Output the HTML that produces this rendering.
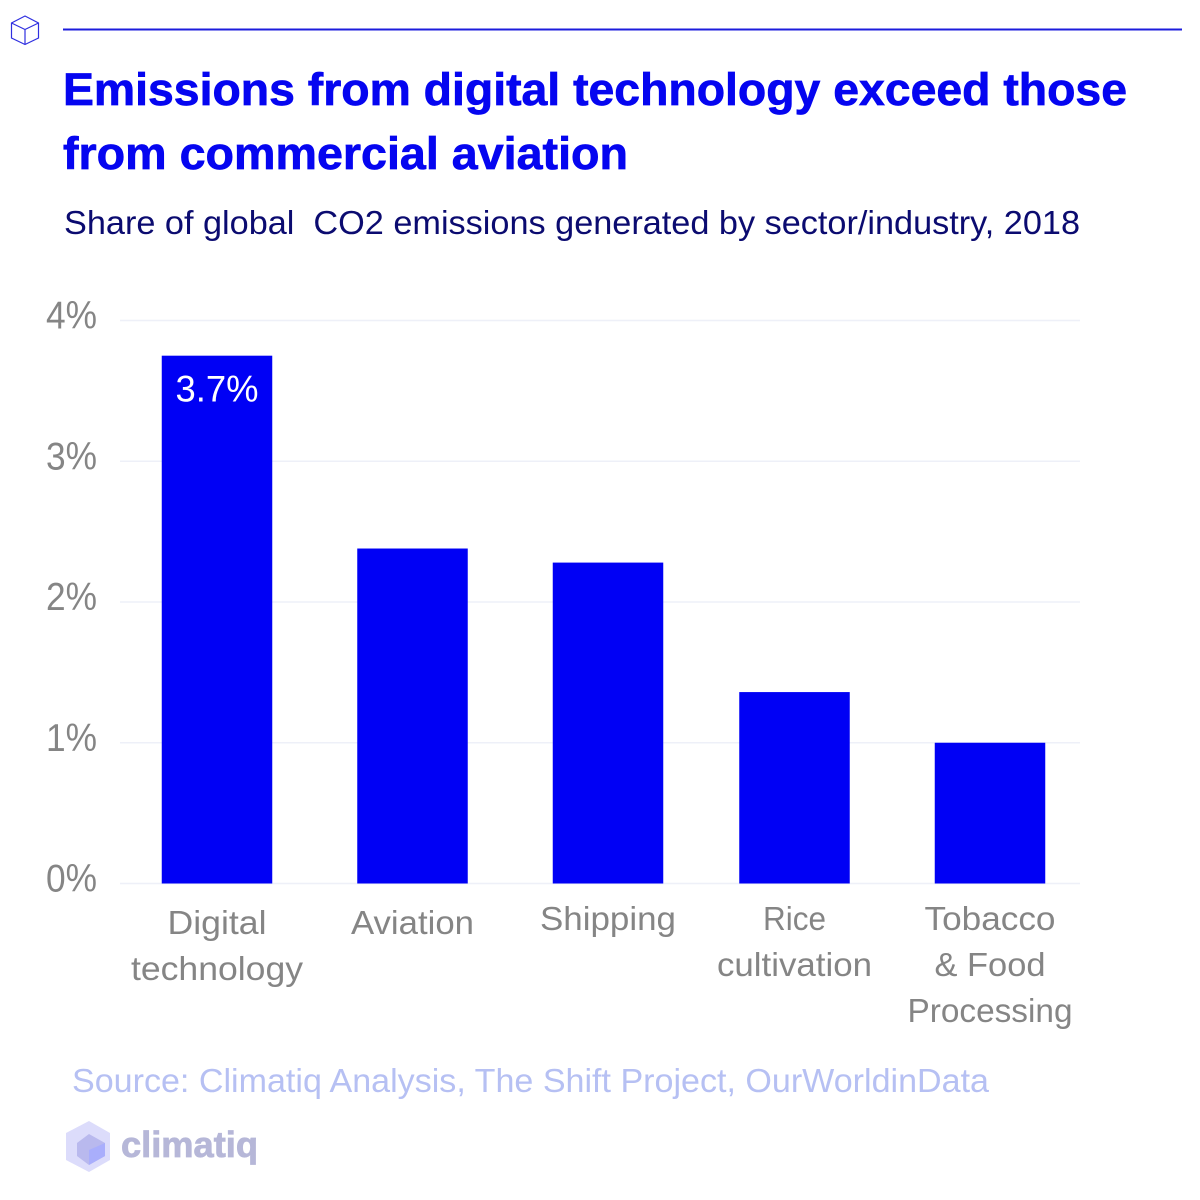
<!DOCTYPE html>
<html>
<head>
<meta charset="utf-8">
<style>
html,body{margin:0;padding:0;background:#fff;width:1200px;height:1200px;overflow:hidden}
svg{display:block}
text{font-family:"Liberation Sans",sans-serif}
</style>
</head>
<body>
<svg id="chart" width="1200" height="1200" viewBox="0 0 1200 1200" xmlns="http://www.w3.org/2000/svg">
  <g fill="none" stroke="#2f2fe0" stroke-width="1.2">
    <path d="M25 16 L38.500 23 L38.500 38 L25 44.500 L11.500 38 L11.500 23 Z"/>
    <path d="M11.500 23 L25 29.500 L38.500 23 M25 29.500 L25 44.500"/>
  </g>
  <line x1="63" y1="29.500" x2="1182" y2="29.500" stroke="#1c1cdc" stroke-width="2"/>
  <text x="63" y="105" font-size="45" font-weight="700" fill="#0505f0" stroke="#0505f0" stroke-width="0.7" textLength="1064" lengthAdjust="spacingAndGlyphs">Emissions from digital technology exceed those</text>
  <text x="63" y="169" font-size="45" font-weight="700" fill="#0505f0" stroke="#0505f0" stroke-width="0.7" textLength="565" lengthAdjust="spacingAndGlyphs">from commercial aviation</text>
  <text x="64" y="234" font-size="33" fill="#0b0b70" textLength="1016" lengthAdjust="spacingAndGlyphs" xml:space="preserve">Share of global  CO2 emissions generated by sector/industry, 2018</text>
  <g id="grid"></g>
  <g id="yticks"></g>
  <g id="bars"></g>
  <g id="xlabels"></g>
  <text x="72" y="1092" font-size="33" fill="#b6c0f3" textLength="917" lengthAdjust="spacingAndGlyphs">Source: Climatiq Analysis, The Shift Project, OurWorldinData</text>
  <g>
    <path d="M89 1121 L110 1133 L110 1160 L89 1172 L66 1160 L66 1133 Z" fill="#dcdcfb"/>
    <path d="M89 1134 L105 1143 L105 1156 L89 1165 L77 1156 L77 1143 Z" fill="#b9b9ee"/>
    <path d="M89 1150 L105 1143 L105 1156 L89 1165 Z" fill="#a9aefc"/>
    <text x="121" y="1157" font-size="36" font-weight="700" fill="#b6b7d8" stroke="#b6b7d8" stroke-width="0.8" textLength="137" lengthAdjust="spacingAndGlyphs">climatiq</text>
  </g>
</svg>
<script>
const categories = ["Digital technology", "Aviation", "Shipping", "Rice cultivation", "Tobacco & Food Processing"];
const shareValues = [3.75, 2.38, 2.28, 1.36, 1.0];
const valueLabels = ["3.7%", "", "", "", ""];
const tickValues = [0, 1, 2, 3, 4];
const tickLabels = ["0%", "1%", "2%", "3%", "4%"];

const NS = "http://www.w3.org/2000/svg";
const BAR_WIDTH = 110.5;
const lineBreaks = { "Digital technology": ["Digital", "technology"], "Rice cultivation": ["Rice", "cultivation"], "Tobacco & Food Processing": ["Tobacco", "& Food", "Processing"] };
const lineFit = { "Digital": 99, "technology": 172, "Aviation": 123, "Shipping": 136, "Rice": 63, "cultivation": 155, "Tobacco": 131, "& Food": 111, "Processing": 165 };

function yScale(v) { return 883.5 - v * 140.75; }
function xCenter(i) { return 217 + i * 195.5 - (i >= 3 ? 9 : 0); }
function labelBaseline(i) { return i >= 2 ? 930 : 934; }

function make(tag, attrs, text) {
  const el = document.createElementNS(NS, tag);
  for (const k in attrs) el.setAttribute(k, attrs[k]);
  if (text !== undefined) el.textContent = text;
  return el;
}

const gridG = document.getElementById("grid");
const tickG = document.getElementById("yticks");
tickValues.forEach(function (v, i) {
  const y = yScale(v);
  const line = make("line", { x1: 120, x2: 1080, y1: y, y2: y, stroke: "#eef0f8", "stroke-width": 1.5 });
  
  
  gridG.appendChild(line);
  const t = make("text", { x: 46, y: y + 8, "font-size": 39, fill: "#858585", textLength: 51, lengthAdjust: "spacingAndGlyphs" }, tickLabels[i]);
  
  
  tickG.appendChild(t);
});

const barG = document.getElementById("bars");
const labelG = document.getElementById("xlabels");
categories.forEach(function (c, i) {
  const cx = xCenter(i);
  const top = yScale(shareValues[i]);
  const bar = make("rect", { x: cx - BAR_WIDTH / 2, y: top, width: BAR_WIDTH, height: yScale(0) - top, fill: "#0000f5" });
  
  
  barG.appendChild(bar);
  if (valueLabels[i]) {
    const val = make("text", { x: cx, y: top + 46, "font-size": 37, fill: "#ffffff", "text-anchor": "middle", textLength: 83, lengthAdjust: "spacingAndGlyphs" }, valueLabels[i]);
    
    
    barG.appendChild(val);
  }
  const lines = lineBreaks[c] || [c];
  lines.forEach(function (ln, j) {
    const t = make("text", { x: cx, y: labelBaseline(i) + j * 46, "font-size": 33, fill: "#858585", "text-anchor": "middle", textLength: lineFit[ln], lengthAdjust: "spacingAndGlyphs" }, ln);
    
    
    labelG.appendChild(t);
  });
});
</script>
</body>
</html>
